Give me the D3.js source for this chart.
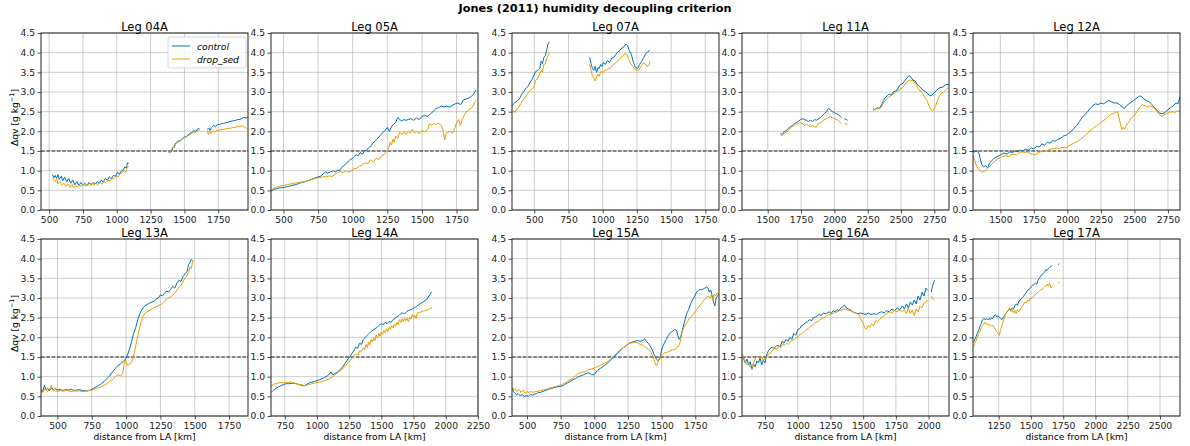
<!DOCTYPE html>
<html>
<head>
<meta charset="utf-8">
<script src="https://cdn.jsdelivr.net/npm/d3@7"></script>
<style>
  body { margin: 0; background: #fff; }
  svg { font-family: "DejaVu Sans", sans-serif; }
</style>
</head>
<body>
<svg id="chart" width="1190" height="446"></svg>
<script>
// leg names, axis limits and tick labels
const legNames = ["Leg 04A", "Leg 05A", "Leg 07A", "Leg 11A", "Leg 12A",
                  "Leg 13A", "Leg 14A", "Leg 15A", "Leg 16A", "Leg 17A"];
const xDomains = [[440, 1970], [410, 1905], [337, 1850], [1307, 2860], [1296, 2840],
                  [380, 1888], [643, 2250], [388, 1926], [574, 2156], [1051, 2655]];
const xTicks = [
  [500, 750, 1000, 1250, 1500, 1750],
  [500, 750, 1000, 1250, 1500, 1750],
  [500, 750, 1000, 1250, 1500, 1750],
  [1500, 1750, 2000, 2250, 2500, 2750],
  [1500, 1750, 2000, 2250, 2500, 2750],
  [500, 750, 1000, 1250, 1500, 1750],
  [750, 1000, 1250, 1500, 1750, 2000, 2250],
  [500, 750, 1000, 1250, 1500, 1750],
  [750, 1000, 1250, 1500, 1750, 2000],
  [1250, 1500, 1750, 2000, 2250, 2500]
];
const yTicks = [0, 0.5, 1, 1.5, 2, 2.5, 3, 3.5, 4, 4.5];
const threshold = 1.5;
const seriesNames = ["control", "drop_sed"];

// [distance km, dqv g/kg]; null = gap in the track
const leg04A_ctl = [[525,0.9],[535,0.82],[545,0.88],[555,0.8],[565,0.9],[575,0.78],[590,0.86],[600,0.74],[615,0.84],[630,0.72],[645,0.8],[660,0.68],[675,0.76],[690,0.64],[705,0.72],[720,0.62],[735,0.7],[750,0.63],[765,0.68],[780,0.62],[795,0.7],[810,0.64],[825,0.7],[840,0.66],[855,0.72],[870,0.68],[885,0.75],[900,0.72],[915,0.8],[930,0.76],[945,0.84],[960,0.8],[975,0.88],[990,0.86],[1005,0.95],[1020,0.92],[1035,1.0],[1050,1.02],[1060,1.1],[1070,1.06],[1080,1.2],[1088,1.18],[1100,null],
  [1385,1.45],[1395,1.5],[1405,1.48],[1415,1.58],[1425,1.62],[1435,1.7],[1450,1.75],[1465,1.76],[1480,1.8],[1495,1.85],[1510,1.86],[1525,1.9],[1540,1.95],[1555,1.97],[1570,2.02],[1585,2.0],[1600,2.07],[1612,2.06],[1620,null],
  [1668,2.05],[1680,2.08],[1690,2.02],[1700,2.1],[1715,2.15],[1730,2.12],[1745,2.18],[1760,2.17],[1775,2.2],[1790,2.2],[1805,2.22],[1820,2.22],[1835,2.25],[1850,2.26],[1865,2.27],[1880,2.28],[1895,2.3],[1910,2.3],[1925,2.33],[1940,2.35],[1955,2.34],[1968,2.35]];
const leg04A_sed = [[525,0.82],[535,0.75],[545,0.72],[555,0.8],[565,0.66],[580,0.72],[595,0.64],[610,0.68],[625,0.6],[640,0.66],[655,0.58],[670,0.65],[680,0.56],[695,0.62],[710,0.58],[725,0.64],[740,0.6],[755,0.66],[770,0.6],[785,0.66],[800,0.62],[815,0.67],[830,0.63],[845,0.68],[860,0.64],[875,0.7],[890,0.66],[905,0.72],[920,0.7],[935,0.76],[950,0.74],[965,0.8],[980,0.8],[995,0.86],[1010,0.84],[1025,0.92],[1040,0.95],[1055,1.0],[1065,0.96],[1075,1.08],[1088,1.1],[1100,null],
  [1385,1.48],[1395,1.45],[1405,1.55],[1415,1.6],[1425,1.58],[1435,1.68],[1450,1.72],[1465,1.75],[1480,1.78],[1495,1.84],[1510,1.85],[1525,1.88],[1540,1.92],[1555,1.94],[1570,1.98],[1585,1.98],[1600,2.02],[1612,2.04],[1620,null],
  [1668,2.02],[1678,1.92],[1688,2.0],[1698,1.95],[1710,2.02],[1725,1.98],[1740,2.03],[1755,2.02],[1770,2.05],[1785,2.04],[1800,2.06],[1815,2.07],[1830,2.08],[1845,2.08],[1860,2.1],[1875,2.1],[1890,2.12],[1905,2.12],[1920,2.14],[1935,2.12],[1950,2.1],[1962,2.06]];

const leg05A_ctl = [[410,0.48],[430,0.52],[450,0.54],[470,0.56],[490,0.57],[510,0.58],[530,0.6],[550,0.61],[570,0.63],[590,0.65],[610,0.67],[630,0.7],[650,0.71],[670,0.74],[690,0.76],[710,0.79],[730,0.82],[750,0.84],[770,0.86],[790,0.93],[805,0.97],[820,0.94],[840,0.97],[860,1.0],[875,0.96],[890,1.02],[905,1.0],[920,1.08],[935,1.12],[950,1.18],[965,1.22],[980,1.28],[995,1.3],[1010,1.36],[1025,1.4],[1040,1.38],[1055,1.46],[1070,1.42],[1085,1.5],[1100,1.52],[1115,1.58],[1130,1.62],[1145,1.7],[1160,1.74],[1175,1.8],[1190,1.86],[1205,1.92],[1220,1.98],[1235,2.02],[1250,2.1],[1265,2.0],[1280,2.12],[1295,2.18],[1310,2.22],[1325,2.35],[1340,2.3],[1355,2.26],[1370,2.3],[1385,2.28],[1400,2.3],[1420,2.32],[1440,2.28],[1460,2.34],[1480,2.3],[1500,2.38],[1520,2.4],[1540,2.38],[1560,2.44],[1580,2.5],[1600,2.58],[1620,2.6],[1640,2.64],[1660,2.62],[1680,2.64],[1700,2.62],[1720,2.66],[1740,2.7],[1760,2.72],[1780,2.68],[1800,2.8],[1820,2.82],[1840,2.85],[1860,2.9],[1875,2.95],[1890,3.05]];
const leg05A_sed = [[410,0.5],[430,0.55],[450,0.58],[470,0.6],[490,0.62],[510,0.63],[530,0.65],[550,0.66],[570,0.67],[590,0.69],[610,0.7],[630,0.71],[650,0.72],[670,0.74],[690,0.76],[710,0.78],[730,0.8],[750,0.82],[770,0.83],[790,0.85],[810,0.84],[830,0.87],[850,0.85],[870,0.9],[890,0.95],[910,0.98],[930,0.95],[950,1.0],[970,0.96],[990,1.0],[1010,1.05],[1030,1.06],[1050,1.12],[1070,1.15],[1090,1.2],[1110,1.18],[1130,1.28],[1150,1.22],[1170,1.32],[1190,1.28],[1210,1.38],[1230,1.42],[1250,1.52],[1260,1.58],[1270,1.72],[1280,1.65],[1290,1.8],[1300,1.72],[1310,1.88],[1325,1.82],[1340,1.98],[1355,1.92],[1370,2.0],[1385,1.92],[1400,2.0],[1415,1.95],[1430,2.05],[1445,1.95],[1460,2.0],[1480,1.95],[1500,2.02],[1520,1.98],[1540,2.05],[1555,2.2],[1570,2.15],[1585,2.2],[1600,2.18],[1620,2.2],[1640,2.15],[1655,1.98],[1665,1.78],[1675,1.95],[1690,1.98],[1705,2.0],[1720,1.95],[1735,2.05],[1750,2.22],[1765,2.3],[1778,2.15],[1790,2.3],[1805,2.4],[1820,2.5],[1840,2.55],[1860,2.6],[1875,2.68],[1888,2.78]];

const leg07A_ctl = [[338,2.65],[350,2.7],[365,2.75],[380,2.78],[395,2.85],[410,2.95],[425,3.02],[440,3.1],[455,3.15],[470,3.25],[485,3.33],[500,3.45],[510,3.52],[525,3.55],[540,3.6],[550,3.78],[560,3.72],[570,3.88],[580,3.92],[590,4.05],[600,4.22],[610,4.27],[620,null],
  [905,3.88],[915,3.72],[925,3.6],[935,3.55],[945,3.65],[955,3.5],[965,3.62],[975,3.6],[985,3.7],[995,3.65],[1005,3.75],[1020,3.7],[1035,3.8],[1050,3.75],[1065,3.85],[1080,3.88],[1095,3.95],[1110,4.02],[1125,4.05],[1140,4.12],[1155,4.15],[1170,4.22],[1182,4.18],[1195,4.05],[1210,3.95],[1225,3.75],[1240,3.62],[1255,3.6],[1270,3.7],[1285,3.78],[1300,3.88],[1315,3.98],[1330,4.02],[1345,4.07]];
const leg07A_sed = [[338,2.48],[350,2.52],[360,2.48],[372,2.58],[385,2.6],[400,2.7],[415,2.78],[430,2.85],[445,2.92],[460,3.0],[475,3.05],[490,3.1],[500,3.15],[510,3.3],[520,3.32],[535,3.42],[550,3.55],[560,3.5],[570,3.7],[580,3.72],[590,3.85],[600,3.92],[610,4.0],[620,null],
  [905,3.7],[915,3.55],[925,3.4],[935,3.35],[945,3.28],[955,3.38],[965,3.45],[975,3.4],[985,3.52],[1000,3.5],[1015,3.55],[1030,3.56],[1045,3.6],[1060,3.62],[1075,3.7],[1090,3.72],[1105,3.78],[1120,3.82],[1135,3.88],[1150,3.92],[1165,3.98],[1178,3.95],[1190,3.82],[1205,3.72],[1220,3.65],[1235,3.58],[1250,3.55],[1262,3.55],[1275,3.62],[1290,3.7],[1302,3.75],[1315,3.68],[1330,3.65],[1340,3.7],[1345,3.78]];

const leg11A_ctl = [[1595,1.95],[1610,1.92],[1625,2.0],[1640,2.02],[1655,2.08],[1670,2.12],[1685,2.15],[1700,2.2],[1715,2.22],[1730,2.25],[1745,2.3],[1760,2.32],[1775,2.3],[1790,2.28],[1805,2.25],[1820,2.28],[1835,2.25],[1850,2.3],[1865,2.28],[1880,2.32],[1895,2.35],[1910,2.4],[1925,2.45],[1940,2.5],[1955,2.58],[1970,2.55],[1985,2.5],[2000,2.48],[2015,2.45],[2030,2.42],[2045,2.38],[2055,2.35],[2065,null],[2075,2.32],[2090,2.3],[2100,2.28],[2110,null],
  [2290,2.58],[2305,2.55],[2320,2.6],[2335,2.58],[2350,2.65],[2365,2.75],[2380,2.85],[2395,2.9],[2410,2.95],[2425,2.92],[2440,3.0],[2455,3.02],[2470,3.05],[2485,3.15],[2500,3.2],[2515,3.22],[2530,3.3],[2545,3.35],[2560,3.42],[2575,3.38],[2590,3.3],[2605,3.28],[2620,3.2],[2635,3.15],[2650,3.1],[2665,3.05],[2680,3.02],[2695,2.98],[2710,2.92],[2725,2.9],[2740,2.95],[2755,3.0],[2770,3.05],[2785,3.1],[2800,3.12],[2815,3.12],[2830,3.18],[2845,3.2],[2858,3.18]];
const leg11A_sed = [[1595,1.9],[1610,1.9],[1625,1.95],[1640,1.98],[1655,2.02],[1670,2.08],[1685,2.12],[1700,2.15],[1715,2.18],[1730,2.2],[1745,2.22],[1760,2.2],[1775,2.15],[1790,2.18],[1805,2.15],[1820,2.12],[1835,2.15],[1850,2.12],[1865,2.1],[1880,2.2],[1895,2.22],[1910,2.25],[1925,2.3],[1940,2.32],[1955,2.35],[1970,2.38],[1985,2.35],[2000,2.32],[2015,2.3],[2030,2.28],[2045,2.22],[2055,2.2],[2065,null],[2075,2.2],[2090,2.18],[2100,2.18],[2110,null],
  [2235,2.52],[2240,2.48],[2245,null],
  [2290,2.52],[2305,2.56],[2320,2.6],[2335,2.58],[2350,2.6],[2365,2.7],[2380,2.78],[2395,2.82],[2410,2.88],[2425,2.9],[2440,2.95],[2455,2.98],[2470,3.02],[2485,3.05],[2500,3.08],[2515,3.12],[2530,3.2],[2545,3.25],[2560,3.3],[2575,3.3],[2590,3.28],[2605,3.25],[2620,3.15],[2635,3.05],[2650,3.02],[2665,2.95],[2680,2.85],[2695,2.78],[2710,2.65],[2725,2.55],[2735,2.52],[2745,2.55],[2760,2.65],[2775,2.8],[2790,2.9],[2805,2.98],[2820,3.0],[2835,3.05],[2850,3.1],[2858,3.1]];

const leg12A_ctl = [[1296,1.48],[1310,1.48],[1325,1.5],[1340,1.45],[1350,1.3],[1362,1.15],[1375,1.1],[1390,1.12],[1405,1.08],[1420,1.2],[1435,1.25],[1450,1.3],[1470,1.35],[1490,1.38],[1510,1.42],[1530,1.45],[1550,1.42],[1570,1.48],[1590,1.46],[1610,1.5],[1630,1.48],[1650,1.52],[1670,1.5],[1690,1.55],[1710,1.52],[1730,1.58],[1750,1.55],[1770,1.62],[1790,1.6],[1810,1.68],[1830,1.65],[1850,1.72],[1870,1.7],[1890,1.76],[1910,1.75],[1930,1.8],[1950,1.82],[1970,1.88],[1990,1.9],[2010,1.95],[2030,2.0],[2050,2.08],[2070,2.15],[2090,2.25],[2110,2.35],[2130,2.42],[2150,2.5],[2170,2.58],[2190,2.65],[2210,2.7],[2230,2.68],[2250,2.72],[2270,2.7],[2290,2.75],[2310,2.78],[2330,2.75],[2350,2.72],[2370,2.72],[2390,2.68],[2410,2.62],[2425,2.58],[2440,2.65],[2460,2.7],[2480,2.75],[2500,2.8],[2520,2.85],[2540,2.9],[2555,2.88],[2570,2.82],[2590,2.78],[2610,2.75],[2630,2.68],[2650,2.6],[2670,2.52],[2690,2.46],[2710,2.45],[2730,2.48],[2750,2.55],[2770,2.6],[2790,2.65],[2810,2.72],[2825,2.7],[2840,2.88]];
const leg12A_sed = [[1296,1.38],[1310,1.25],[1322,1.12],[1335,1.05],[1348,1.0],[1360,0.96],[1375,0.98],[1390,1.0],[1405,1.06],[1420,1.1],[1440,1.18],[1460,1.25],[1480,1.3],[1500,1.33],[1520,1.36],[1540,1.38],[1560,1.36],[1580,1.4],[1600,1.42],[1620,1.4],[1640,1.45],[1660,1.48],[1680,1.46],[1700,1.48],[1720,1.44],[1740,1.42],[1760,1.4],[1780,1.45],[1800,1.48],[1820,1.5],[1840,1.5],[1860,1.52],[1880,1.55],[1900,1.56],[1920,1.58],[1940,1.56],[1960,1.6],[1980,1.58],[2000,1.6],[2020,1.65],[2040,1.68],[2060,1.72],[2080,1.75],[2100,1.8],[2120,1.86],[2140,1.92],[2160,1.98],[2180,2.05],[2200,2.1],[2220,2.15],[2240,2.2],[2260,2.25],[2280,2.3],[2300,2.35],[2320,2.42],[2340,2.45],[2360,2.48],[2375,2.5],[2385,2.35],[2395,2.2],[2405,2.05],[2415,2.1],[2425,2.05],[2440,2.15],[2460,2.25],[2480,2.35],[2500,2.42],[2520,2.5],[2540,2.62],[2560,2.68],[2580,2.65],[2600,2.62],[2620,2.65],[2640,2.6],[2660,2.55],[2680,2.45],[2700,2.38],[2720,2.42],[2740,2.45],[2760,2.48],[2780,2.5],[2800,2.48],[2820,2.52],[2840,2.5]];

const leg13A_ctl = [[380,0.68],[392,0.62],[405,0.78],[418,0.66],[430,0.7],[442,0.64],[455,0.72],[468,0.66],[480,0.7],[500,0.66],[520,0.68],[540,0.65],[560,0.67],[580,0.66],[600,0.68],[620,0.65],[640,0.66],[660,0.67],[680,0.65],[700,0.64],[720,0.64],[740,0.66],[760,0.7],[780,0.74],[800,0.78],[820,0.82],[840,0.88],[860,0.95],[880,1.02],[900,1.12],[920,1.2],[940,1.28],[960,1.33],[980,1.38],[995,1.45],[1010,1.55],[1025,1.7],[1040,1.9],[1055,2.1],[1070,2.25],[1085,2.45],[1100,2.6],[1115,2.7],[1130,2.78],[1145,2.82],[1160,2.85],[1175,2.88],[1190,2.9],[1205,2.92],[1220,2.98],[1235,3.0],[1250,3.08],[1265,3.05],[1280,3.12],[1295,3.18],[1310,3.15],[1325,3.22],[1340,3.3],[1355,3.25],[1370,3.38],[1385,3.45],[1400,3.42],[1415,3.55],[1430,3.62],[1445,3.68],[1455,3.85],[1465,3.9],[1475,3.98],[1485,3.95]];
const leg13A_sed = [[380,0.62],[395,0.6],[410,0.7],[425,0.62],[440,0.66],[455,0.78],[470,0.66],[485,0.64],[500,0.62],[520,0.66],[540,0.63],[560,0.65],[580,0.64],[600,0.62],[620,0.64],[640,0.63],[660,0.64],[680,0.62],[700,0.63],[720,0.64],[740,0.65],[760,0.67],[780,0.7],[800,0.72],[820,0.75],[840,0.78],[860,0.82],[880,0.88],[900,0.92],[920,1.0],[940,1.05],[960,1.02],[975,1.08],[985,1.3],[995,1.45],[1005,1.3],[1020,1.3],[1035,1.35],[1050,1.45],[1065,1.7],[1080,1.95],[1095,2.2],[1110,2.4],[1125,2.55],[1140,2.62],[1160,2.66],[1180,2.7],[1200,2.75],[1220,2.78],[1240,2.82],[1260,2.85],[1280,2.92],[1300,2.98],[1320,3.02],[1340,3.08],[1360,3.15],[1380,3.25],[1400,3.32],[1420,3.45],[1440,3.55],[1455,3.65],[1465,3.78],[1475,3.75],[1485,3.92],[1492,3.95]];

const leg14A_ctl = [[645,0.6],[660,0.65],[680,0.7],[700,0.74],[720,0.77],[740,0.8],[760,0.82],[780,0.82],[800,0.83],[820,0.83],[840,0.82],[860,0.8],[880,0.78],[900,0.77],[920,0.8],[940,0.84],[960,0.86],[980,0.88],[1000,0.9],[1020,0.92],[1040,0.95],[1060,0.98],[1080,1.02],[1100,1.08],[1110,1.12],[1120,1.05],[1140,1.08],[1160,1.12],[1180,1.18],[1200,1.25],[1220,1.35],[1240,1.45],[1255,1.5],[1270,1.58],[1285,1.65],[1300,1.75],[1315,1.72],[1330,1.85],[1345,1.82],[1360,1.95],[1375,2.0],[1390,2.05],[1405,2.1],[1420,2.15],[1435,2.18],[1450,2.22],[1465,2.25],[1480,2.3],[1500,2.35],[1515,2.32],[1530,2.38],[1545,2.35],[1560,2.4],[1575,2.38],[1590,2.45],[1605,2.48],[1620,2.52],[1635,2.55],[1650,2.6],[1665,2.62],[1680,2.6],[1695,2.65],[1710,2.68],[1725,2.7],[1740,2.72],[1755,2.75],[1770,2.78],[1785,2.82],[1800,2.85],[1815,2.88],[1830,2.92],[1845,2.95],[1860,3.0],[1875,3.08],[1890,3.15]];
const leg14A_sed = [[645,0.76],[660,0.8],[680,0.82],[700,0.84],[720,0.85],[740,0.84],[760,0.86],[780,0.85],[800,0.87],[820,0.84],[840,0.82],[860,0.8],[880,0.8],[900,0.77],[920,0.78],[940,0.8],[960,0.82],[980,0.84],[1000,0.85],[1020,0.86],[1040,0.87],[1060,0.9],[1080,0.92],[1100,0.95],[1120,1.0],[1140,1.05],[1160,1.1],[1180,1.15],[1200,1.2],[1220,1.28],[1240,1.35],[1260,1.42],[1280,1.5],[1300,1.58],[1320,1.55],[1330,1.66],[1340,1.62],[1360,1.74],[1370,1.68],[1380,1.82],[1390,1.74],[1400,1.88],[1410,1.8],[1420,1.95],[1430,1.88],[1440,1.98],[1450,1.92],[1460,2.06],[1470,1.98],[1480,2.1],[1490,2.02],[1500,2.14],[1510,2.08],[1520,2.18],[1530,2.12],[1540,2.22],[1550,2.15],[1560,2.26],[1570,2.2],[1580,2.3],[1590,2.24],[1600,2.34],[1610,2.28],[1620,2.38],[1630,2.32],[1640,2.45],[1650,2.38],[1660,2.47],[1670,2.4],[1680,2.5],[1690,2.42],[1700,2.48],[1710,2.4],[1720,2.52],[1730,2.46],[1740,2.58],[1750,2.5],[1760,2.56],[1770,2.48],[1780,2.62],[1800,2.64],[1820,2.66],[1840,2.68],[1860,2.7],[1875,2.73],[1890,2.75]];

const leg15A_ctl = [[390,0.72],[400,0.62],[410,0.58],[420,0.55],[435,0.56],[450,0.52],[465,0.54],[480,0.5],[495,0.52],[510,0.5],[525,0.55],[540,0.53],[555,0.56],[570,0.57],[585,0.6],[600,0.6],[620,0.63],[640,0.65],[660,0.68],[680,0.7],[700,0.72],[720,0.74],[740,0.75],[760,0.76],[780,0.8],[800,0.84],[820,0.88],[840,0.92],[860,0.95],[880,1.0],[900,1.02],[920,1.05],[940,1.08],[960,1.1],[980,1.05],[1000,1.05],[1020,1.15],[1040,1.2],[1060,1.25],[1080,1.3],[1100,1.35],[1120,1.42],[1140,1.48],[1160,1.55],[1180,1.62],[1200,1.7],[1220,1.75],[1240,1.8],[1260,1.85],[1280,1.88],[1300,1.9],[1320,1.92],[1340,1.9],[1360,1.92],[1375,1.96],[1385,1.9],[1400,1.85],[1415,1.78],[1430,1.68],[1445,1.55],[1460,1.45],[1475,1.4],[1485,1.45],[1495,1.6],[1505,1.75],[1520,1.85],[1535,1.95],[1550,2.05],[1565,2.12],[1580,2.15],[1595,2.2],[1610,2.18],[1620,2.05],[1630,1.95],[1640,2.0],[1655,2.2],[1670,2.4],[1685,2.6],[1700,2.7],[1715,2.85],[1730,2.95],[1745,3.05],[1760,3.15],[1775,3.2],[1790,3.22],[1805,3.22],[1820,3.25],[1835,3.28],[1845,3.25],[1855,3.15],[1865,3.2],[1875,3.05],[1885,2.9],[1895,2.8],[1905,3.0],[1915,3.05],[1924,3.1]];
const leg15A_sed = [[390,0.72],[400,0.66],[410,0.7],[425,0.62],[440,0.68],[455,0.6],[470,0.66],[485,0.58],[500,0.62],[515,0.6],[530,0.62],[545,0.6],[560,0.62],[580,0.63],[600,0.65],[620,0.66],[640,0.68],[660,0.7],[680,0.72],[700,0.74],[720,0.76],[740,0.78],[760,0.8],[780,0.84],[800,0.88],[820,0.92],[840,0.96],[860,1.02],[880,1.08],[900,1.1],[920,1.12],[940,1.15],[960,1.18],[980,1.2],[1000,1.22],[1020,1.25],[1040,1.28],[1060,1.32],[1080,1.35],[1100,1.38],[1120,1.45],[1140,1.5],[1160,1.58],[1180,1.65],[1200,1.7],[1220,1.75],[1240,1.8],[1260,1.85],[1280,1.86],[1300,1.87],[1320,1.86],[1340,1.82],[1360,1.8],[1380,1.75],[1400,1.7],[1420,1.62],[1435,1.52],[1445,1.42],[1455,1.3],[1465,1.28],[1475,1.4],[1485,1.5],[1500,1.55],[1520,1.6],[1540,1.62],[1560,1.65],[1580,1.68],[1600,1.7],[1620,1.75],[1635,1.85],[1650,2.1],[1665,2.25],[1680,2.35],[1695,2.42],[1710,2.5],[1725,2.55],[1740,2.6],[1755,2.68],[1770,2.75],[1785,2.82],[1800,2.88],[1815,2.95],[1830,3.0],[1845,3.05],[1860,3.0],[1870,3.08],[1880,2.95],[1890,3.1],[1900,3.05],[1910,3.12],[1924,3.1]];

const leg16A_ctl = [[578,1.5],[590,1.42],[600,1.35],[612,1.45],[625,1.3],[637,1.38],[650,1.18],[662,1.32],[675,1.25],[688,1.4],[700,1.35],[712,1.48],[725,1.3],[737,1.42],[750,1.35],[762,1.55],[775,1.65],[790,1.72],[805,1.75],[820,1.72],[835,1.78],[850,1.8],[865,1.75],[880,1.9],[895,1.85],[910,1.95],[925,1.9],[940,2.0],[955,1.95],[970,2.1],[985,2.05],[1000,2.2],[1015,2.22],[1030,2.3],[1045,2.32],[1060,2.38],[1075,2.4],[1090,2.45],[1105,2.42],[1120,2.5],[1135,2.52],[1150,2.55],[1165,2.58],[1180,2.55],[1195,2.62],[1210,2.6],[1225,2.62],[1240,2.65],[1255,2.6],[1270,2.68],[1285,2.65],[1300,2.7],[1315,2.68],[1330,2.75],[1345,2.78],[1358,2.82],[1370,2.75],[1385,2.72],[1400,2.7],[1420,2.65],[1440,2.62],[1460,2.6],[1480,2.62],[1500,2.6],[1520,2.58],[1540,2.62],[1560,2.58],[1580,2.6],[1600,2.58],[1620,2.62],[1640,2.65],[1660,2.62],[1680,2.68],[1700,2.65],[1720,2.72],[1740,2.68],[1760,2.75],[1780,2.7],[1800,2.8],[1815,2.72],[1830,2.85],[1845,2.75],[1860,2.9],[1875,2.82],[1890,2.95],[1905,2.85],[1920,3.05],[1935,2.95],[1950,3.15],[1965,3.05],[1980,3.25],[1992,3.2],[2000,null],[2020,3.15],[2030,3.3],[2045,3.45]];
const leg16A_sed = [[578,1.58],[590,1.45],[600,1.38],[612,1.3],[625,1.35],[637,1.25],[650,1.2],[662,1.35],[675,1.45],[688,1.52],[700,1.5],[712,1.45],[725,1.5],[737,1.42],[750,1.45],[765,1.52],[780,1.58],[795,1.62],[810,1.68],[825,1.72],[840,1.7],[855,1.78],[870,1.75],[885,1.82],[900,1.8],[915,1.85],[930,1.82],[945,1.9],[960,1.92],[975,1.95],[990,2.0],[1005,2.02],[1020,2.08],[1035,2.1],[1050,2.15],[1065,2.2],[1080,2.22],[1095,2.28],[1110,2.3],[1125,2.35],[1140,2.38],[1155,2.4],[1170,2.45],[1185,2.48],[1200,2.5],[1220,2.55],[1240,2.58],[1260,2.6],[1280,2.62],[1300,2.65],[1320,2.68],[1340,2.7],[1360,2.72],[1380,2.7],[1400,2.68],[1420,2.65],[1440,2.62],[1455,2.6],[1470,2.55],[1485,2.45],[1500,2.35],[1512,2.25],[1525,2.2],[1537,2.3],[1550,2.25],[1565,2.35],[1580,2.3],[1595,2.42],[1610,2.4],[1625,2.45],[1640,2.5],[1660,2.55],[1680,2.6],[1700,2.65],[1720,2.62],[1740,2.68],[1760,2.65],[1780,2.7],[1800,2.65],[1815,2.7],[1830,2.6],[1845,2.75],[1860,2.6],[1875,2.7],[1890,2.55],[1905,2.72],[1920,2.65],[1935,2.8],[1950,2.75],[1965,2.88],[1980,2.9],[1992,2.95],[2000,null],[2020,3.05],[2030,2.98],[2045,2.95]];

const leg17A_ctl = [[1055,1.88],[1065,1.95],[1075,2.02],[1085,2.1],[1095,2.18],[1105,2.28],[1115,2.35],[1125,2.45],[1135,2.48],[1145,2.45],[1155,2.48],[1165,2.44],[1175,2.48],[1185,2.45],[1195,2.5],[1205,2.48],[1215,2.55],[1225,2.58],[1235,2.52],[1245,2.55],[1255,2.5],[1265,2.48],[1275,2.45],[1285,2.5],[1295,2.55],[1305,2.6],[1315,2.65],[1325,2.68],[1335,2.72],[1345,2.7],[1355,2.75],[1365,2.72],[1375,2.8],[1385,2.85],[1395,2.82],[1405,2.9],[1415,2.95],[1425,2.98],[1435,3.02],[1445,3.05],[1455,3.1],[1465,3.15],[1475,3.2],[1485,3.22],[1495,3.25],[1505,3.3],[1515,3.32],[1525,3.35],[1535,3.38],[1545,3.35],[1555,3.45],[1565,3.5],[1575,3.55],[1585,3.6],[1595,3.62],[1605,3.65],[1615,3.72],[1625,3.7],[1635,3.75],[1645,3.78],[1655,3.8],[1665,3.82],[1675,null],[1710,3.85],[1720,3.87]];
const leg17A_sed = [[1055,1.75],[1065,1.85],[1075,1.92],[1085,2.0],[1095,2.1],[1105,2.15],[1115,2.25],[1125,2.3],[1135,2.35],[1145,2.38],[1155,2.32],[1165,2.35],[1175,2.3],[1185,2.32],[1195,2.28],[1205,2.3],[1215,2.25],[1225,2.2],[1235,2.15],[1245,2.1],[1255,2.05],[1265,2.2],[1275,2.3],[1285,2.4],[1295,2.5],[1305,2.6],[1315,2.65],[1325,2.7],[1335,2.75],[1345,2.65],[1355,2.7],[1365,2.62],[1375,2.68],[1385,2.6],[1395,2.7],[1405,2.65],[1415,2.72],[1425,2.75],[1435,2.8],[1445,2.85],[1455,2.9],[1465,2.88],[1475,2.95],[1485,2.92],[1495,3.0],[1505,2.98],[1515,3.02],[1525,3.05],[1535,3.1],[1545,3.12],[1555,3.15],[1565,3.18],[1575,3.2],[1585,3.22],[1595,3.25],[1605,3.28],[1615,3.3],[1625,3.35],[1635,3.3],[1645,3.38],[1655,3.25],[1665,3.28],[1675,null],[1710,3.38],[1720,3.4]];

const ctlSeries = [leg04A_ctl, leg05A_ctl, leg07A_ctl, leg11A_ctl, leg12A_ctl,
                   leg13A_ctl, leg14A_ctl, leg15A_ctl, leg16A_ctl, leg17A_ctl];
const sedSeries = [leg04A_sed, leg05A_sed, leg07A_sed, leg11A_sed, leg12A_sed,
                   leg13A_sed, leg14A_sed, leg15A_sed, leg16A_sed, leg17A_sed];

// layout (pixel positions of each axes box)
const colLeft = [41, 271, 512, 742, 973];
const rowTop = [33, 239];
const pw = 207, ph = 177;
const colors = ["#0072B2", "#E69F00"];
const tickFont = 9.2;

const svg = d3.select("#chart");

svg.append("text")
  .attr("x", 595).attr("y", 12)
  .attr("text-anchor", "middle")
  .attr("font-size", 11.3).attr("font-weight", "bold")
  .text("Jones (2011) humidity decoupling criterion");

legNames.forEach((name, i) => {
  const row = Math.floor(i / 5), col = i % 5;
  const g = svg.append("g")
    .attr("transform", `translate(${colLeft[col]},${rowTop[row]})`);

  const x = d3.scaleLinear().domain(xDomains[i]).range([0, pw]);
  const y = d3.scaleLinear().domain([0, 4.5]).range([ph, 0]);

  // grid
  g.append("g").selectAll("line").data(xTicks[i]).join("line")
    .attr("x1", d => x(d)).attr("x2", d => x(d))
    .attr("y1", 0).attr("y2", ph)
    .attr("stroke", "#b0b0b0").attr("stroke-opacity", 0.7).attr("stroke-width", 0.9);
  g.append("g").selectAll("line").data(yTicks).join("line")
    .attr("x1", 0).attr("x2", pw)
    .attr("y1", d => y(d)).attr("y2", d => y(d))
    .attr("stroke", "#b0b0b0").attr("stroke-opacity", 0.7).attr("stroke-width", 0.9);

  const clipId = "clip" + i;
  g.append("clipPath").attr("id", clipId)
    .append("rect").attr("width", pw).attr("height", ph);

  // threshold line
  g.append("line")
    .attr("x1", 0).attr("x2", pw)
    .attr("y1", y(threshold)).attr("y2", y(threshold))
    .attr("stroke", "#222").attr("stroke-width", 1)
    .attr("stroke-dasharray", "3.7,1.6");

  const line = d3.line()
    .defined(d => d[1] !== null)
    .x(d => x(d[0])).y(d => y(d[1]));

  [ctlSeries[i], sedSeries[i]].forEach((s, k) => {
    g.append("path")
      .datum(s)
      .attr("clip-path", `url(#${clipId})`)
      .attr("fill", "none")
      .attr("stroke", colors[k])
      .attr("stroke-width", 1)
      .attr("stroke-linejoin", "round")
      .attr("d", line);
  });

  // axes
  const xAxis = g.append("g").attr("transform", `translate(0,${ph})`)
    .call(d3.axisBottom(x).tickValues(xTicks[i]).tickFormat(d3.format("d"))
      .tickSizeOuter(0).tickSize(3.5).tickPadding(2.5));
  const yAxis = g.append("g")
    .call(d3.axisLeft(y).tickValues(yTicks).tickFormat(d3.format(".1f"))
      .tickSizeOuter(0).tickSize(3.5).tickPadding(2.5));
  [xAxis, yAxis].forEach(a => {
    a.select(".domain").remove();
    a.selectAll("text").attr("font-family", "DejaVu Sans").attr("font-size", tickFont).attr("fill", "#222");
    a.selectAll("line").attr("stroke", "#222").attr("stroke-width", 0.8);
  });

  g.append("rect")
    .attr("width", pw).attr("height", ph)
    .attr("fill", "none").attr("stroke", "#222").attr("stroke-width", 1);

  g.append("text")
    .attr("x", pw / 2).attr("y", -2.5)
    .attr("text-anchor", "middle")
    .attr("font-size", 11.5)
    .text(name);

  if (row === 1) {
    g.append("text")
      .attr("x", pw / 2).attr("y", ph + 24)
      .attr("text-anchor", "middle")
      .attr("font-size", tickFont)
      .text("distance from LA [km]");
  }
  if (col === 0) {
    const t = g.append("text")
      .attr("transform", `translate(-23,${ph / 2 - 4}) rotate(-90)`)
      .attr("text-anchor", "middle")
      .attr("font-size", tickFont);
    t.append("tspan").text("Δqv [g kg");
    t.append("tspan").attr("font-size", 6.5).attr("dy", -4).text("−1");
    t.append("tspan").attr("dy", 4).text("]");
  }

  // legend in first panel
  if (i === 0) {
    const lg = g.append("g").attr("transform", `translate(${pw - 80},4)`);
    lg.append("rect")
      .attr("width", 78).attr("height", 31).attr("rx", 2)
      .attr("fill", "#fff").attr("fill-opacity", 0.8)
      .attr("stroke", "#ccc").attr("stroke-width", 0.8);
    seriesNames.forEach((s, k) => {
      const yy = 9 + k * 13;
      lg.append("line")
        .attr("x1", 4).attr("x2", 22).attr("y1", yy).attr("y2", yy)
        .attr("stroke", colors[k]).attr("stroke-width", 1);
      lg.append("text")
        .attr("x", 29).attr("y", yy + 3.5)
        .attr("font-size", tickFont).attr("font-style", "italic")
        .text(s);
    });
  }
});
</script>
</body>
</html>
